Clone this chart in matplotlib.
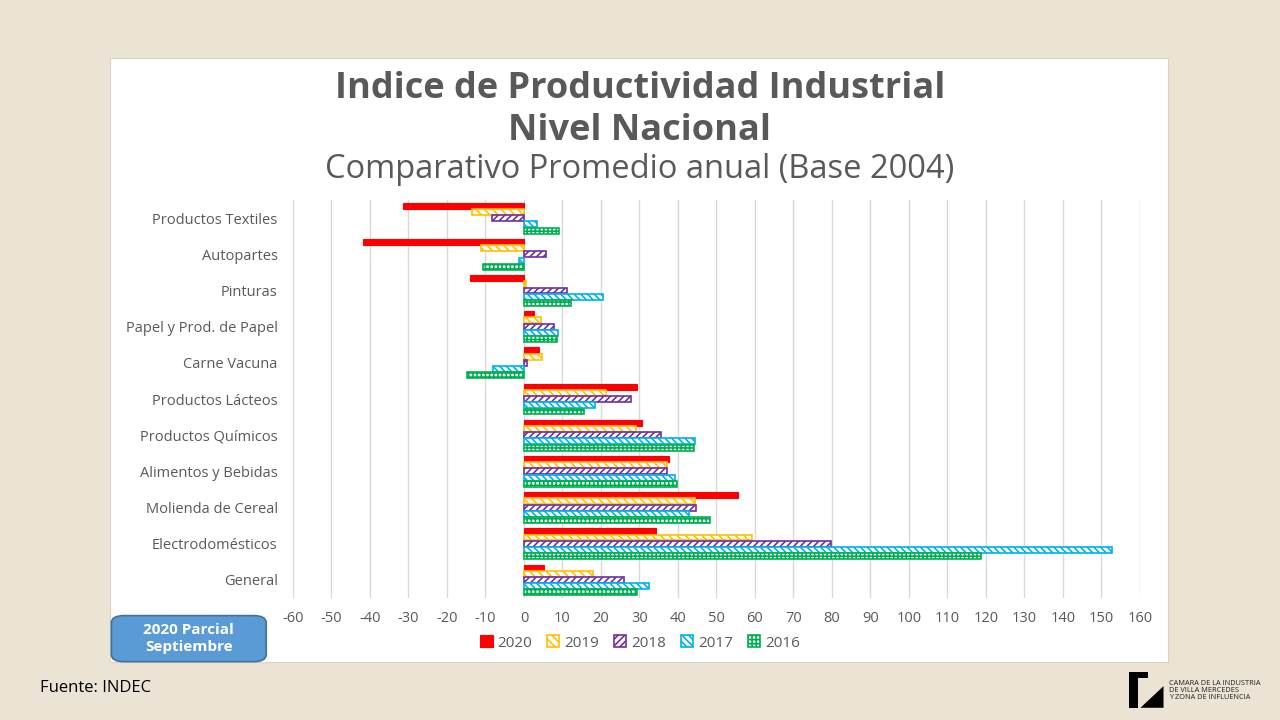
import numpy as np
import matplotlib.pyplot as plt
from matplotlib.patches import Rectangle, FancyBboxPatch, Polygon

plt.rcParams['font.family'] = ['Open Sans', 'DejaVu Sans']
plt.rcParams['hatch.linewidth'] = 1.2

# Datos
categorias = ["Productos Textiles", "Autopartes", "Pinturas", "Papel y Prod. de Papel",
              "Carne Vacuna", "Productos Lácteos", "Productos Químicos",
              "Alimentos y Bebidas", "Molienda de Cereal", "Electrodomésticos", "General"]
años = ["2020", "2019", "2018", "2017", "2016"]
v2020 = [-31.3, -41.8, -13.9, 2.7, 3.9, 29.4, 30.6, 37.7, 55.5, 34.3, 5.2]
v2019 = [-13.5, -11.2, 0.5, 4.4, 4.6, 21.2, 29.0, 37.1, 44.4, 59.2, 17.9]
v2018 = [-8.2, 5.6, 11.3, 7.8, 0.7, 27.8, 35.7, 37.1, 44.7, 79.7, 26.1]
v2017 = [3.3, -1.4, 20.4, 8.9, -8.0, 18.4, 44.3, 39.2, 42.8, 152.7, 32.4]
v2016 = [9.2, -10.7, 12.1, 8.5, -14.9, 15.6, 44.1, 39.7, 48.4, 118.7, 29.4]
series = [v2020, v2019, v2018, v2017, v2016]
colores = ["#ff0000", "#ffc000", "#7030a0", "#00b0f0", "#00b050"]
tramas = [None, "\\\\\\\\", "/////", "\\\\\\\\\\", "++++"]
ticks_x = np.arange(-60, 161, 10)

fig = plt.figure(figsize=(12.8, 7.2), dpi=100)
fig.patch.set_facecolor("#ebe4d5")

# panel blanco (detrás de los ejes)
fig.patches.append(Rectangle((0.0859, 0.0806), 0.8266, 0.8384, transform=fig.transFigure,
                             facecolor="white", edgecolor="#d8d2c4", lw=0.8, zorder=-5))

ax = fig.add_axes([0.2289, 0.1694, 0.6617, 0.5528])
ax.set_facecolor("none")

y = np.arange(len(categorias))
alto = 0.172
handles = []
for i, (vals, col, tr) in enumerate(zip(series, colores, tramas)):
    pos = y + (i - 2) * alto
    if tr is None:
        b = ax.barh(pos, vals, height=alto * 0.95, color=col, edgecolor=col, lw=0.8,
                    label=años[i], zorder=3)
    else:
        b = ax.barh(pos, vals, height=alto * 0.95, facecolor="white", edgecolor=col,
                    hatch=tr, lw=1.2, label=años[i], zorder=3)
    handles.append(b)

ax.set_xlim(-60, 160)
ax.set_ylim(len(categorias) - 0.5, -0.5)
ax.set_xticks(ticks_x)
ax.set_xticklabels([str(t) for t in ticks_x])
ax.set_yticks(y)
ax.set_yticklabels(categorias)
ax.tick_params(axis="both", length=0, colors="#595959", labelsize=10.5)
ax.tick_params(axis="y", pad=11)
ax.tick_params(axis="x", pad=9)
ax.grid(axis="x", color="#d9d9d9", lw=1, zorder=0)
for s in ax.spines.values():
    s.set_visible(False)

fig.legend(handles=handles, labels=años, loc="center", bbox_to_anchor=(0.5, 0.107), ncol=5,
           frameon=False, fontsize=11, handlelength=0.8, handleheight=0.8,
           handletextpad=0.3, columnspacing=1.0, labelcolor="#595959")

# títulos
fig.text(0.5, 0.876, "Indice de Productividad Industrial", ha="center", va="center",
         fontsize=26, fontweight="bold", color="#595959")
fig.text(0.5, 0.818, "Nivel Nacional", ha="center", va="center",
         fontsize=26, fontweight="bold", color="#595959")
fig.text(0.5, 0.765, "Comparativo Promedio anual (Base 2004)", ha="center", va="center",
         fontsize=23.5, color="#595959")

# recuadro azul
fig.patches.append(FancyBboxPatch((0.087, 0.081), 0.121, 0.064, transform=fig.transFigure,
                                  boxstyle="round,pad=0,rounding_size=0.01",
                                  facecolor="#5b9bd5", edgecolor="#41719c", lw=1.2, zorder=2))
fig.text(0.1475, 0.113, "2020 Parcial\nSeptiembre", ha="center", va="center", fontsize=11,
         fontweight="bold", color="white", linespacing=1.3)

fig.text(0.031, 0.044, "Fuente: INDEC", ha="left", va="center", fontsize=12, color="black")

# logo
fig.patches.append(Polygon([(0.882, 0.067), (0.897, 0.067), (0.897, 0.059), (0.889, 0.059),
                            (0.889, 0.017), (0.882, 0.017)], closed=True,
                           transform=fig.transFigure, facecolor="black", zorder=3))
fig.patches.append(Polygon([(0.891, 0.017), (0.909, 0.047), (0.909, 0.017)], closed=True,
                           transform=fig.transFigure, facecolor="black", zorder=3))
fig.text(0.913, 0.041, "CAMARA DE LA INDUSTRIA\nDE VILLA MERCEDES\nY ZONA DE INFLUENCIA",
         ha="left", va="center", fontsize=5.3, color="#222222", linespacing=1.05)

fig.savefig("out.png", dpi=100, facecolor=fig.get_facecolor())
